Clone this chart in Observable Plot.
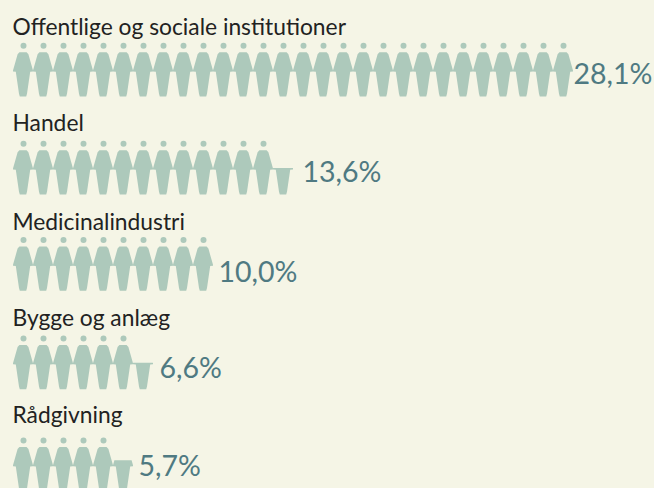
<!DOCTYPE html>
<html><head><meta charset="utf-8">
<script src="https://cdn.jsdelivr.net/npm/d3@7"></script>
<script src="https://cdn.jsdelivr.net/npm/@observablehq/plot@0.6"></script>
<style>html,body{margin:0;padding:0;background:#f5f5e6;overflow:hidden}svg{display:block}</style>
</head><body><div id="chart"></div>
<script>
const categories = ["Offentlige og sociale institutioner","Handel","Medicinalindustri","Bygge og anlæg","Rådgivning"];
const values = [28.1,13.6,10.0,6.6,5.7];
const valueLabels = ["28,1%","13,6%","10,0%","6,6%","5,7%"];
const rowTops = [52.3,150.3,246.6,345,447];
const labelBase = [34.3,130,229,325.7,422.7];
const valueBase = [83.3,181,281,377,475];
const valueGap = [0,9,5,6,5];

const H = 44.2;
const profile = [[0,0.18],[2,0.27],[18.2,0.5],[19.2,0.5],[19.5,0.36],[41.5,0.2],[H,0.16]];
function halfAt(t){
  for(let i=1;i<profile.length;i++){
    const [a,wa]=profile[i-1],[b,wb]=profile[i];
    if(t<=b) return wa+(wb-wa)*(t-a)/(b-a);
  }
  return profile[profile.length-1][1];
}
const heads=[], body=[], ends=[];
categories.forEach((c,r)=>{
  const v=values[r];
  let n=0;
  for(let i=0;i<Math.ceil(v-1e-9);i++){
    const frac=Math.min(1,v-i);
    if(frac<0.2) continue;      // a tenth of a figure is not drawn in the reference
    n=i+1;
    const cut=H*(1-frac);
    const id=r+"-"+i;
    if(frac>=1) heads.push({x:i+0.5,y:rowTops[r]-7});
    const ts=[cut,...profile.map(p=>p[0]).filter(t=>t>cut)];
    ts.forEach(t=>{const w=halfAt(t);body.push({id,y:rowTops[r]+t,x1:i+0.5-w,x2:i+0.5+w});});
  }
  ends.push(n);
});
const table=categories.map((c,r)=>({c,lab:valueLabels[r],ly:labelBase[r],vy:valueBase[r],end:ends[r],gap:valueGap[r]}));
const plot=Plot.plot({
  width:654,height:488,margin:0,
  style:{background:"#f5f5e6",fontFamily:"Lato, sans-serif"},
  x:{domain:[0,32.05],range:[13,654],axis:null},
  y:{domain:[0,488],range:[0,488],axis:null},
  marks:[
    Plot.areaX(body,{y:"y",x1:"x1",x2:"x2",z:"id",fill:"#adc9bb",curve:"linear"}),
    Plot.dot(heads,{x:"x",y:"y",r:3,fill:"#adc9bb"}),
    Plot.text(table,{x:0,y:"ly",dx:-1,text:"c",textAnchor:"start",lineAnchor:"bottom",fontSize:22.8,fill:"#222222"}),
    ...table.map(d=>Plot.text([d],{x:"end",y:"vy",dx:d.gap,text:"lab",textAnchor:"start",lineAnchor:"bottom",fontSize:28.5,fill:"#4f7a82"}))
  ]
});
document.getElementById("chart").append(plot);
</script></body></html>
